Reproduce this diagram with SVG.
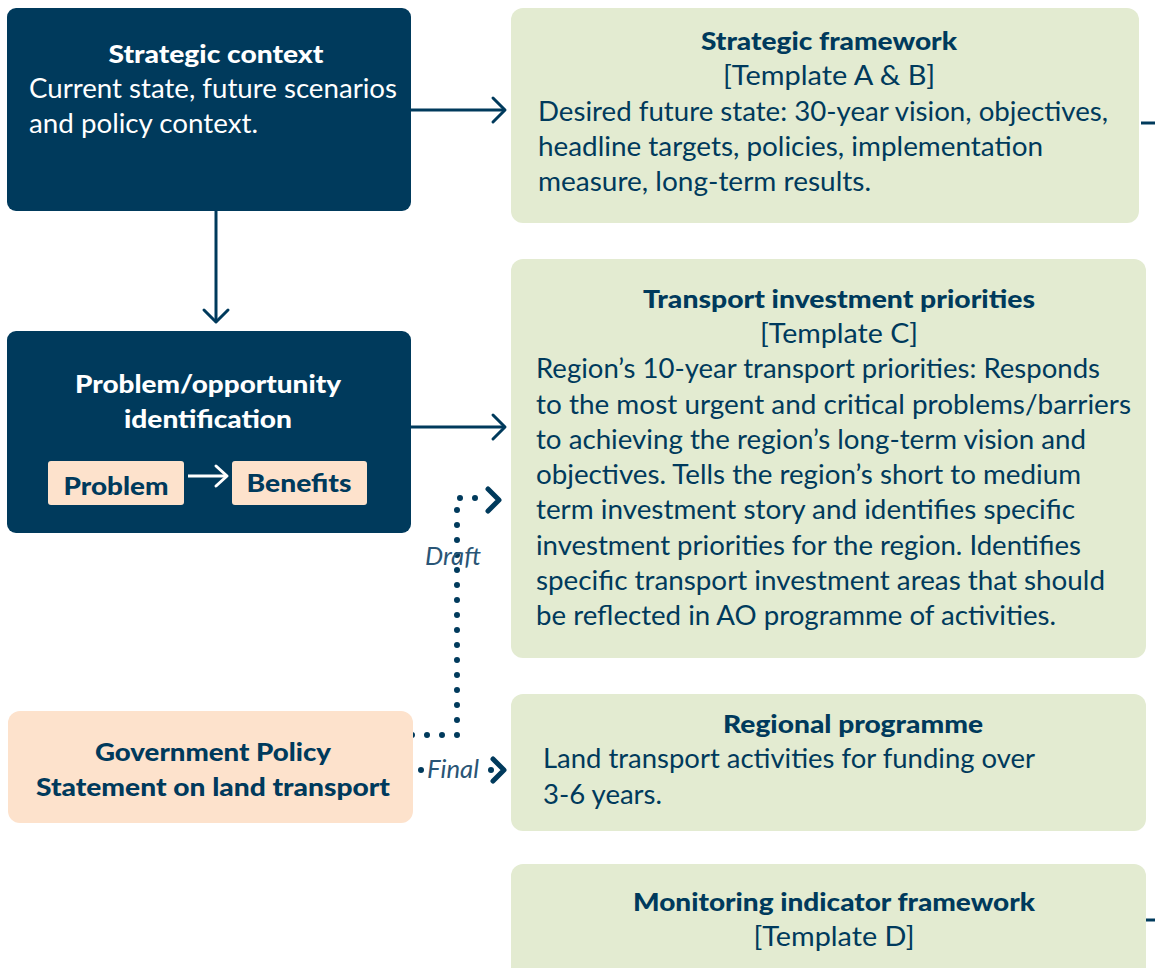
<svg xmlns="http://www.w3.org/2000/svg" width="1155" height="968" viewBox="0 0 1155 968">
  <defs>
    <style>
      .dark { fill: #003a5c; }
      .green { fill: #e3ebd1; }
      .peach { fill: #fde2cc; }
      text { font-family: Lato, "Noto Sans", sans-serif; }
      .t { font-size: 25px; font-weight: 900; fill: #003a5c; text-anchor: middle; }
      .tw { font-size: 25px; font-weight: 900; fill: #ffffff; text-anchor: middle; }
      .b { font-size: 26px; fill: #003a5c; }
      .bc { font-size: 26px; fill: #003a5c; text-anchor: middle; }
      .bw { font-size: 26px; fill: #ffffff; }
      .lbl { font-size: 25px; font-style: italic; font-weight: 400; fill: #2a5576; }
      .line { fill: none; stroke: #003a5c; stroke-width: 3; }
      .head { fill: none; stroke: #003a5c; stroke-width: 3; stroke-linecap: round; stroke-linejoin: round; }
      .bold-head { fill: none; stroke: #003a5c; stroke-width: 5; stroke-linecap: round; stroke-linejoin: round; }
      .dots { fill: none; stroke: #003a5c; stroke-width: 6; stroke-linecap: round; stroke-dasharray: 0 15; }
    </style>
  </defs>

  <!-- connectors -->
  <g id="connectors">
    <path class="line" d="M411 110 H503"/>
    <path class="head" d="M493 98 L505 110 L493 122"/>
    <path class="line" d="M216 211 V320"/>
    <path class="head" d="M204 310 L216 322 L228 310"/>
    <path class="line" d="M411 427 H503"/>
    <path class="head" d="M493 415 L505 427 L493 439"/>
    <!-- dotted draft path -->
    <path class="dots" d="M412 735 H457 V498 H487"/>
    <path class="bold-head" d="M488 489 L499 500 L488 511"/>
    <!-- final -->
    <circle cx="421" cy="770" r="3" fill="#003a5c"/>
    <circle cx="491" cy="770" r="3" fill="#003a5c"/>
    <path class="bold-head" d="M493 759 L504 770 L493 781"/>
    <!-- stubs -->
    <path class="line" d="M1141 123 H1155"/>
    <path class="line" d="M1143 920 H1155"/>
  </g>

  <g id="strategic-context">
    <rect class="dark" x="7" y="8" width="404" height="203" rx="9"/>
    <text class="tw" x="216" y="63" textLength="215" lengthAdjust="spacingAndGlyphs">Strategic context</text>
    <text class="bw" x="29" y="98" textLength="368" lengthAdjust="spacingAndGlyphs">Current state, future scenarios</text>
    <text class="bw" x="29" y="133" textLength="229" lengthAdjust="spacingAndGlyphs">and policy context.</text>
  </g>

  <g id="strategic-framework">
    <rect class="green" x="511" y="8" width="628" height="215" rx="12"/>
    <text class="t" x="829" y="50" textLength="256" lengthAdjust="spacingAndGlyphs">Strategic framework</text>
    <text class="bc" x="829" y="85" textLength="212" lengthAdjust="spacingAndGlyphs">[Template A &amp; B]</text>
    <text class="b" x="538" y="121" textLength="570" lengthAdjust="spacingAndGlyphs">Desired future state: 30-year vision, objectives,</text>
    <text class="b" x="538" y="156" textLength="505" lengthAdjust="spacingAndGlyphs">headline targets, policies, implementation</text>
    <text class="b" x="538" y="191" textLength="333" lengthAdjust="spacingAndGlyphs">measure, long-term results.</text>
  </g>

  <g id="problem-opportunity">
    <rect class="dark" x="7" y="331" width="404" height="202" rx="9"/>
    <text class="tw" x="208" y="393" textLength="266" lengthAdjust="spacingAndGlyphs">Problem/opportunity</text>
    <text class="tw" x="208" y="428" textLength="168" lengthAdjust="spacingAndGlyphs">identification</text>
    <rect class="peach" x="48" y="461" width="136" height="44" rx="3"/>
    <text class="t" x="116" y="495" textLength="105" lengthAdjust="spacingAndGlyphs">Problem</text>
    <rect class="peach" x="232" y="461" width="135" height="44" rx="3"/>
    <text class="t" x="299" y="492" textLength="105" lengthAdjust="spacingAndGlyphs">Benefits</text>
    <path d="M188 476 H225" fill="none" stroke="#ffffff" stroke-width="3"/>
    <path d="M216 466 L227 476 L216 486" fill="none" stroke="#ffffff" stroke-width="3" stroke-linecap="round" stroke-linejoin="round"/>
  </g>

  <g id="transport-investment-priorities">
    <rect class="green" x="511" y="259" width="635" height="399" rx="12"/>
    <text class="t" x="839" y="308" textLength="392" lengthAdjust="spacingAndGlyphs">Transport investment priorities</text>
    <text class="bc" x="839" y="343" textLength="158" lengthAdjust="spacingAndGlyphs">[Template C]</text>
    <text class="b" x="536" y="378" textLength="564" lengthAdjust="spacingAndGlyphs">Region’s 10-year transport priorities: Responds</text>
    <text class="b" x="536" y="414" textLength="595" lengthAdjust="spacingAndGlyphs">to the most urgent and critical problems/barriers</text>
    <text class="b" x="536" y="449" textLength="550" lengthAdjust="spacingAndGlyphs">to achieving the region’s long-term vision and</text>
    <text class="b" x="536" y="484" textLength="545" lengthAdjust="spacingAndGlyphs">objectives. Tells the region’s short to medium</text>
    <text class="b" x="536" y="519" textLength="539" lengthAdjust="spacingAndGlyphs">term investment story and identifies specific</text>
    <text class="b" x="536" y="555" textLength="545" lengthAdjust="spacingAndGlyphs">investment priorities for the region. Identifies</text>
    <text class="b" x="536" y="590" textLength="569" lengthAdjust="spacingAndGlyphs">specific transport investment areas that should</text>
    <text class="b" x="536" y="625" textLength="520" lengthAdjust="spacingAndGlyphs">be reflected in AO programme of activities.</text>
  </g>

  <g id="government-policy-statement">
    <rect class="peach" x="8" y="711" width="405" height="112" rx="12"/>
    <text class="t" x="213" y="761" textLength="236" lengthAdjust="spacingAndGlyphs">Government Policy</text>
    <text class="t" x="213" y="796" textLength="354" lengthAdjust="spacingAndGlyphs">Statement on land transport</text>
  </g>

  <g id="regional-programme">
    <rect class="green" x="511" y="694" width="635" height="137" rx="12"/>
    <text class="t" x="853" y="733" textLength="260" lengthAdjust="spacingAndGlyphs">Regional programme</text>
    <text class="b" x="543" y="768" textLength="492" lengthAdjust="spacingAndGlyphs">Land transport activities for funding over</text>
    <text class="b" x="543" y="804" textLength="119" lengthAdjust="spacingAndGlyphs">3-6 years.</text>
  </g>

  <g id="monitoring-indicator-framework">
    <rect class="green" x="511" y="864" width="635" height="120" rx="12"/>
    <text class="t" x="834" y="911" textLength="402" lengthAdjust="spacingAndGlyphs">Monitoring indicator framework</text>
    <text class="bc" x="834" y="946" textLength="161" lengthAdjust="spacingAndGlyphs">[Template D]</text>
  </g>

  <g id="labels">
    <text class="lbl" x="425" y="565" textLength="56" lengthAdjust="spacingAndGlyphs">Draft</text>
    <text class="lbl" x="427" y="778" textLength="52" lengthAdjust="spacingAndGlyphs">Final</text>
  </g>
</svg>
